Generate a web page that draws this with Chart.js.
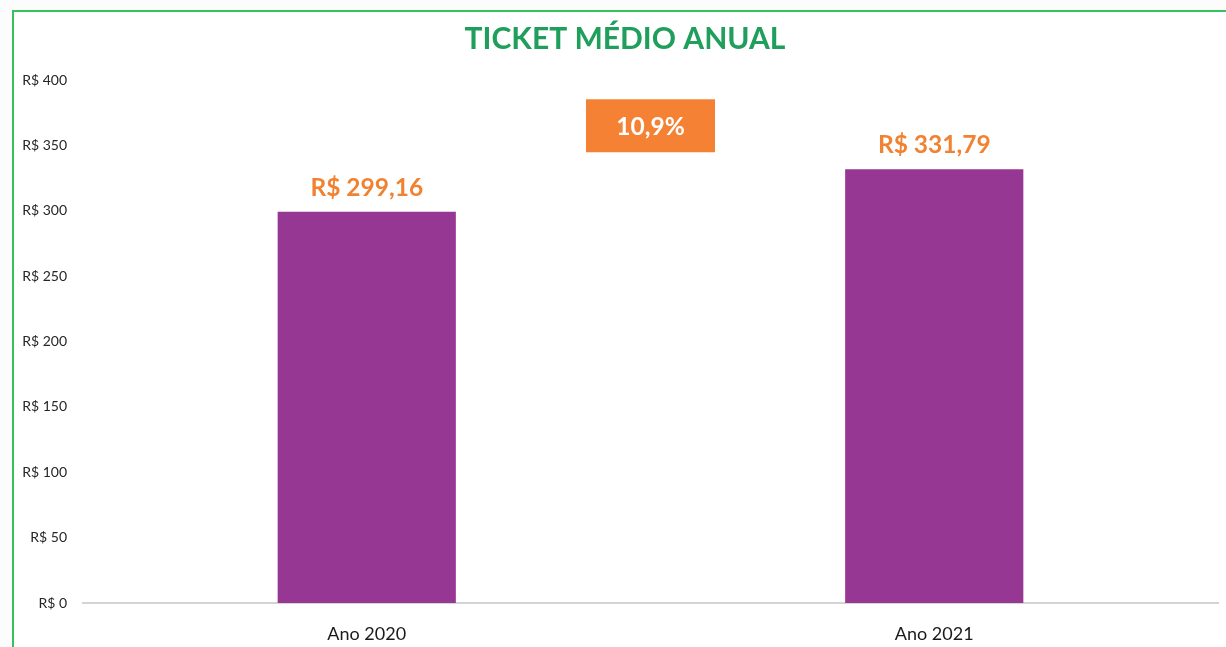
<!DOCTYPE html>
<html>
<head>
<meta charset="utf-8">
<script src="https://cdn.jsdelivr.net/npm/chart.js@4.4.1/dist/chart.umd.min.js"></script>
<style>
  html, body { margin: 0; padding: 0; background: #fcfcfc; overflow: hidden; }
  #frame {
    position: absolute; left: 12px; top: 10px; width: 1240px; height: 660px;
    border: 2px solid #34c35a; background: #ffffff;
  }
  #wrap { position: absolute; left: 0; top: 0; width: 1226px; height: 647px; }
</style>
</head>
<body>
<div id="frame"></div>
<div id="wrap"><canvas id="barChart"></canvas></div>
<script>
// Ticket médio por ano (R$)
const chartTitle = "TICKET MÉDIO ANUAL";
const years = ["Ano 2020", "Ano 2021"];
const ticketValues = [299.16, 331.79];
const variationLabel = "10,9%";

const FONT = "Lato, 'Open Sans', sans-serif";

function formatBRL(v) {
  return "R$ " + v.toFixed(2).replace(".", ",");
}

// title, value labels above the bars and the variation badge
const extrasPlugin = {
  id: "extras",
  afterDatasetsDraw(chart) {
    const ctx = chart.ctx;
    const meta = chart.getDatasetMeta(0);
    ctx.save();
    ctx.fillStyle = "#f08232";
    ctx.font = "bold 24.5px " + FONT;
    ctx.textAlign = "center";
    ctx.textBaseline = "middle";
    meta.data.forEach((bar, i) => {
      ctx.fillText(formatBRL(ticketValues[i]), bar.x, bar.y - 24);
    });
    ctx.restore();
  },
  afterDraw(chart) {
    const ctx = chart.ctx;
    const x = chart.scales.x;
    const y = chart.scales.y;
    ctx.save();
    // title
    ctx.fillStyle = "#1f9e5c";
    ctx.font = "bold 30px " + FONT;
    ctx.textAlign = "center";
    ctx.textBaseline = "middle";
    ctx.fillText(chartTitle, 625, 39);
    // badge between the two bars
    const cx = x.getPixelForValue(0.5);
    const cy = y.getPixelForValue(365);
    ctx.fillStyle = "#f58234";
    ctx.fillRect(cx - 64.5, cy - 26.5, 129, 53);
    ctx.fillStyle = "#ffffff";
    ctx.font = "bold 24.5px " + FONT;
    ctx.fillText(variationLabel, cx, cy + 1);
    ctx.restore();
  }
};

const ctx = document.getElementById("barChart").getContext("2d");
new Chart(ctx, {
  type: "bar",
  data: {
    labels: years,
    datasets: [
      {
        label: "Ticket médio",
        data: ticketValues,
        backgroundColor: "#963793",
        categoryPercentage: 1,
        barPercentage: 0.314,
      },
    ],
  },
  options: {
    responsive: true,
    maintainAspectRatio: false,
    animation: false,
    layout: {
      padding: { top: 80, right: 8, bottom: 0, left: 0 },
    },
    plugins: {
      legend: { display: false },
      tooltip: { enabled: false },
    },
    scales: {
      x: {
        grid: { display: false },
        border: { display: true, color: "#d4d4d4", width: 2 },
        ticks: {
          color: "#1a1a1a",
          font: { family: FONT, size: 18 },
          padding: 12,
        },
        afterFit: (s) => { s.height = 44; },
      },
      y: {
        min: 0,
        max: 400,
        grid: { display: false },
        border: { display: false },
        ticks: {
          stepSize: 50,
          color: "#262626",
          font: { family: FONT, size: 14 },
          padding: 8,
          callback: (v) => "R$ " + v,
        },
        afterFit: (s) => { s.width = 83; },
      },
    },
  },
  plugins: [extrasPlugin],
});
</script>
</body>
</html>
